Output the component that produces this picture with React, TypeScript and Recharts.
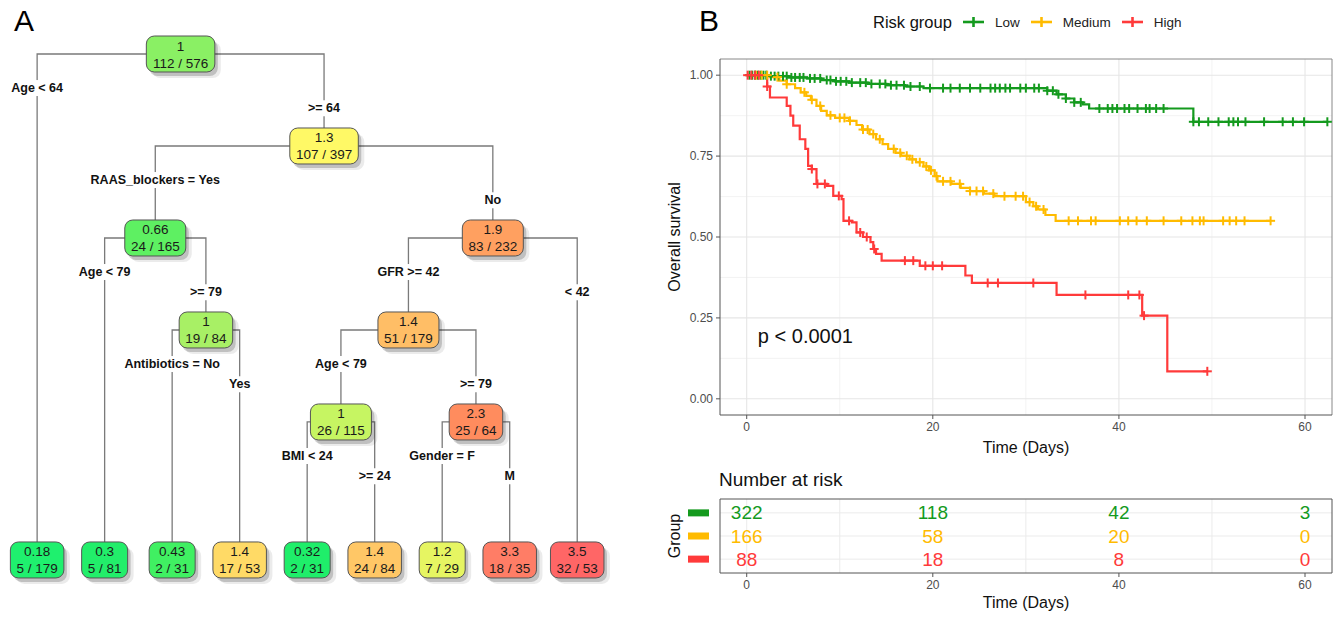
import React from 'react'
import { ComposedChart, ScatterChart, Scatter, Line, XAxis, YAxis, CartesianGrid, ReferenceLine, ReferenceDot } from 'recharts'

const FONT = '"Liberation Sans", Arial, sans-serif'

// ---------- panel A : regression tree ----------
const treeNodes = [
  { id: 'n1', value: '1', count: '112 / 576', fill: '#8AF064' },
  { id: 'n2', value: '1.3', count: '107 / 397', fill: '#FFF966' },
  { id: 'n3', value: '0.66', count: '24 / 165', fill: '#5EF062' },
  { id: 'n4', value: '1', count: '19 / 84', fill: '#A8F065' },
  { id: 'n5', value: '1.9', count: '83 / 232', fill: '#FFA060' },
  { id: 'n6', value: '1.4', count: '51 / 179', fill: '#FFBE66' },
  { id: 'n7', value: '1', count: '26 / 115', fill: '#C6F562' },
  { id: 'n8', value: '2.3', count: '25 / 64', fill: '#FF8C5E' },
  { id: 'L1', value: '0.18', count: '5 / 179', fill: '#1FF06E' },
  { id: 'L2', value: '0.3', count: '5 / 81', fill: '#22EE6A' },
  { id: 'L3', value: '0.43', count: '2 / 31', fill: '#40F062' },
  { id: 'L4', value: '1.4', count: '17 / 53', fill: '#FFDA66' },
  { id: 'L5', value: '0.32', count: '2 / 31', fill: '#1FEE6A' },
  { id: 'L6', value: '1.4', count: '24 / 84', fill: '#FFC766' },
  { id: 'L7', value: '1.2', count: '7 / 29', fill: '#E6F562' },
  { id: 'L8', value: '3.3', count: '18 / 35', fill: '#FF7D66' },
  { id: 'L9', value: '3.5', count: '32 / 53', fill: '#FF6666' },
]

const treeSplits = [
  { parent: 'n1', left: 'L1', right: 'n2', leftLabel: 'Age < 64', rightLabel: '>= 64' },
  { parent: 'n2', left: 'n3', right: 'n5', leftLabel: 'RAAS_blockers = Yes', rightLabel: 'No' },
  { parent: 'n3', left: 'L2', right: 'n4', leftLabel: 'Age < 79', rightLabel: '>= 79' },
  { parent: 'n4', left: 'L3', right: 'L4', leftLabel: 'Antibiotics = No', rightLabel: 'Yes' },
  { parent: 'n5', left: 'n6', right: 'L9', leftLabel: 'GFR >= 42', rightLabel: '< 42' },
  { parent: 'n6', left: 'n7', right: 'n8', leftLabel: 'Age < 79', rightLabel: '>= 79' },
  { parent: 'n7', left: 'L5', right: 'L6', leftLabel: 'BMI < 24', rightLabel: '>= 24' },
  { parent: 'n8', left: 'L7', right: 'L8', leftLabel: 'Gender = F', rightLabel: 'M' },
]

const leafOrder = ['L1', 'L2', 'L3', 'L4', 'L5', 'L6', 'L7', 'L8', 'L9']

// ---------- panel B : Kaplan-Meier ----------
const groupNames = ['Low', 'Medium', 'High']
const groupColors = ['#149A1E', '#FFBB00', '#FF3A3A']

const lowSteps = [
  [0, 1], [2.5, 0.997], [4.5, 0.993], [6.5, 0.99], [8, 0.985], [9.5, 0.981], [11, 0.977], [13, 0.973],
  [15, 0.969], [17, 0.965], [19, 0.96], [32.3, 0.952], [33.3, 0.941], [34.3, 0.928], [35.2, 0.916],
  [36.1, 0.91], [36.8, 0.897], [48.0, 0.856], [62.4, 0.856],
]
const mediumSteps = [
  [0, 1], [2.5, 0.994], [3.5, 0.983], [4.3, 0.972], [5.2, 0.96], [5.8, 0.947], [6.4, 0.936], [6.9, 0.924],
  [7.5, 0.905], [8.0, 0.89], [8.6, 0.876], [9.5, 0.868], [11.0, 0.859], [11.8, 0.846], [12.4, 0.832],
  [13.2, 0.818], [13.9, 0.802], [14.6, 0.787], [15.2, 0.772], [16.0, 0.76], [16.6, 0.751], [17.5, 0.74],
  [18.2, 0.731], [19.0, 0.718], [19.6, 0.706], [20.2, 0.688], [20.5, 0.672], [22.0, 0.664], [23.0, 0.652],
  [24.0, 0.642], [25.5, 0.634], [26.6, 0.626], [30.0, 0.608], [30.8, 0.595], [31.3, 0.585], [32.1, 0.568],
  [33.2, 0.55], [56.3, 0.55],
]
const highSteps = [
  [0, 1], [2.2, 0.965], [2.5, 0.931], [4.3, 0.905], [4.7, 0.875], [5.0, 0.844], [5.7, 0.802], [6.3, 0.772],
  [6.6, 0.72], [7.0, 0.71], [7.5, 0.664], [8.6, 0.658], [9.3, 0.627], [10.2, 0.617], [10.4, 0.55],
  [11.3, 0.545], [11.8, 0.514], [12.5, 0.5], [13.3, 0.484], [13.6, 0.463], [13.9, 0.448], [14.5, 0.427],
  [18.6, 0.411], [23.5, 0.381], [24.2, 0.358], [33.3, 0.321], [42.5, 0.257], [45.2, 0.085], [49.5, 0.085],
]

const lowCensored = [
  0.3, 0.6, 0.9, 1.2, 1.5, 1.8, 2.1, 2.6, 3.0, 3.4, 3.9, 4.3, 4.8, 5.2, 5.7, 6.1, 6.8, 7.3, 7.9, 8.6, 9.0,
  9.6, 10.1, 10.7, 11.3, 12.2, 12.8, 13.4, 14.3, 14.9, 15.5, 16.1, 16.9, 17.6, 18.6, 19.7, 21.1, 21.9, 22.9,
  24.0, 25.1, 26.2, 26.7, 27.2, 27.8, 28.3, 29.4, 30.0, 30.9, 31.4, 32.3, 32.9, 33.5, 34.3, 35.2, 35.9, 37.9,
  38.8, 39.3, 39.8, 40.6, 41.1, 42.0, 42.9, 43.3, 44.0, 44.8, 48.0, 48.6, 49.6, 50.7, 51.8, 52.3, 52.8, 53.6,
  55.6, 57.6, 58.7, 59.9, 62.4,
]
const mediumCensored = [
  1.0, 1.6, 2.2, 3.3, 4.3, 6.2, 7.0, 7.9, 9.0, 10.0, 10.5, 11.1, 12.5, 13.0, 13.6, 14.3, 15.8, 16.5, 17.2,
  17.8, 18.6, 19.3, 19.8, 20.4, 21.1, 21.9, 22.9, 24.0, 24.7, 25.4, 26.5, 27.7, 28.9, 29.7, 30.4, 31.1, 31.9,
  34.6, 35.6, 37.0, 37.5, 40.1, 41.0, 41.9, 43.0, 44.8, 46.7, 47.9, 48.7, 49.1, 51.2, 51.9, 52.6, 53.5, 56.3,
]
const highCensored = [
  0.1, 0.5, 0.9, 1.3, 2.2, 7.0, 7.6, 8.4, 9.9, 11.0, 12.2, 12.9, 13.7, 17.0, 17.9, 19.2, 20.0, 21.0, 25.9,
  27.0, 30.8, 36.4, 41.0, 42.2, 42.7, 49.5,
]

const timeTicks = [0, 20, 40, 60]
const timeMinor = [10, 30, 50]
const survTicks = [0, 0.25, 0.5, 0.75, 1]
const survMinor = [0.125, 0.375, 0.625, 0.875]

const riskTimes = [0, 20, 40, 60]
const lowAtRisk = [322, 118, 42, 3]
const mediumAtRisk = [166, 58, 20, 0]
const highAtRisk = [88, 18, 8, 0]

// ---------- derived ----------
const LEAF_LEVEL = 5.5
const layout: Record<string, { x: number; y: number }> = {}
function place(id: string, depth: number) {
  const s = treeSplits.find((d) => d.parent === id)
  if (!s) {
    layout[id] = { x: leafOrder.indexOf(id), y: LEAF_LEVEL }
    return
  }
  place(s.left, depth + 1)
  place(s.right, depth + 1)
  layout[id] = { x: (layout[s.left].x + layout[s.right].x) / 2, y: depth }
}
place('n1', 0)

const nodePoints = treeNodes.map((n) => ({ ...n, ...layout[n.id] }))
const edgePaths = treeSplits.map((s) => {
  const p = layout[s.parent], l = layout[s.left], r = layout[s.right]
  return [
    { x: l.x, y: l.y }, { x: l.x, y: p.y }, { x: r.x, y: p.y }, { x: r.x, y: r.y },
  ]
})
const splitLabels = treeSplits.flatMap((s) => {
  const p = layout[s.parent]
  return [
    { x: layout[s.left].x, y: p.y + 0.37, text: s.leftLabel },
    { x: layout[s.right].x, y: p.y + 0.59, text: s.rightLabel },
  ]
})

const stepSeries = [lowSteps, mediumSteps, highSteps].map((st) => st.map(([t, s]) => ({ t, s })))
const survAt = (steps: number[][], t: number) => {
  let v = 1
  for (const [st, s] of steps) if (st <= t) v = s
  return v
}
const censorSeries = [
  lowCensored.map((t) => ({ t, s: survAt(lowSteps, t) })),
  mediumCensored.map((t) => ({ t, s: survAt(mediumSteps, t) })),
  highCensored.map((t) => ({ t, s: survAt(highSteps, t) })),
]
const riskRows = [lowAtRisk, mediumAtRisk, highAtRisk].map((arr, gi) =>
  arr.map((n, i) => ({ t: riskTimes[i], row: 3 - gi, n }))
)

// ---------- shapes ----------
const TreeNode = (props: any) => {
  const { cx, cy, payload } = props
  const w = Math.max(payload.value.length, payload.count.length) * 7.5 + 1
  const h = 36
  return (
    <g>
      <rect x={cx - w / 2 + 6} y={cy - h / 2 + 6} width={w} height={h} rx={8} fill="#000" opacity={0.08} />
      <rect x={cx - w / 2 + 3} y={cy - h / 2 + 4} width={w} height={h} rx={8} fill="#000" opacity={0.18} />
      <rect x={cx - w / 2} y={cy - h / 2} width={w} height={h} rx={8} fill={payload.fill} stroke="#555" strokeWidth={1} />
      <text x={cx} y={cy - 8} textAnchor="middle" dominantBaseline="central" fontSize={13.5} fontFamily={FONT} fill="#1a1a1a">
        {payload.value}
      </text>
      <text x={cx} y={cy + 9} textAnchor="middle" dominantBaseline="central" fontSize={13.5} fontFamily={FONT} fill="#1a1a1a">
        {payload.count}
      </text>
    </g>
  )
}

const SplitLabel = (props: any) => {
  const { cx, cy, payload } = props
  const w = payload.text.length * 7 + 4
  return (
    <g>
      <rect x={cx - w / 2} y={cy - 8} width={w} height={16} fill="#fff" />
      <text x={cx} y={cy} textAnchor="middle" dominantBaseline="central" fontSize={12.5} fontWeight="bold" fontFamily={FONT} fill="#111">
        {payload.text}
      </text>
    </g>
  )
}

const plusDot = (color: string) => (props: any) => {
  const { cx, cy, index } = props
  if (cx == null || cy == null) return <g key={index} />
  return (
    <g key={index}>
      <line x1={cx - 4.5} x2={cx + 4.5} y1={cy} y2={cy} stroke={color} strokeWidth={2} />
      <line x1={cx} x2={cx} y1={cy - 4.5} y2={cy + 4.5} stroke={color} strokeWidth={2} />
    </g>
  )
}

const countDot = (color: string) => (props: any) => {
  const { cx, cy, index, payload } = props
  return (
    <text key={index} x={cx} y={cy} textAnchor="middle" dominantBaseline="central" fontSize={19} fontFamily={FONT} fill={color}>
      {payload.n}
    </text>
  )
}

const GroupTick = (props: any) => {
  const { x, y, payload } = props
  const color = groupColors[3 - payload.value]
  return <rect x={x - 32} y={y - 3.5} width={21} height={7} fill={color} />
}

const tickStyle = { fill: '#4D4D4D', fontSize: 12, fontFamily: FONT }

const xTitle = (dy: number) => (props: any) => {
  const vb = props.viewBox
  return (
    <text x={vb.x + vb.width / 2} y={vb.y + dy} textAnchor="middle" dominantBaseline="central" fontSize={16} fontFamily={FONT} fill="#111">
      Time (Days)
    </text>
  )
}
const yTitle = (text: string) => (props: any) => {
  const vb = props.viewBox
  const x = vb.x + 14
  const y = vb.y + vb.height / 2
  return (
    <text x={x} y={y} transform={`rotate(-90, ${x}, ${y})`} textAnchor="middle" dominantBaseline="central" fontSize={16} fontFamily={FONT} fill="#111">
      {text}
    </text>
  )
}

const LegendKey = ({ color }: { color: string }) => (
  <svg width={21} height={12} style={{ margin: '0 11px 0 11px' }}>
    <line x1={0} x2={21} y1={6} y2={6} stroke={color} strokeWidth={2.6} />
    <line x1={10.5} x2={10.5} y1={1} y2={11} stroke={color} strokeWidth={2.6} />
  </svg>
)

export default function App() {
  return (
    <div style={{ position: 'absolute', left: 0, top: 0, width: 1343, height: 617, background: '#fff', fontFamily: FONT }}>
      <div style={{ position: 'absolute', left: 14, top: 4, fontSize: 30 }}>A</div>
      <div style={{ position: 'absolute', left: 699, top: 4, fontSize: 30 }}>B</div>

      <div style={{ position: 'absolute', left: 0, top: 0 }}>
        <ScatterChart width={640} height={617} margin={{ top: 0, right: 0, bottom: 0, left: 0 }}>
          <XAxis type="number" dataKey="x" domain={[-0.55, 8.93]} hide allowDataOverflow />
          <YAxis type="number" dataKey="y" domain={[-0.587, 6.12]} reversed hide allowDataOverflow />
          {edgePaths.map((pts, i) => (
            <Scatter key={'e' + i} data={pts} line={{ stroke: '#7A7A7A', strokeWidth: 1.3 }} shape={() => <g />} isAnimationActive={false} />
          ))}
          <Scatter data={splitLabels} shape={SplitLabel} isAnimationActive={false} />
          <Scatter data={nodePoints} shape={TreeNode} isAnimationActive={false} />
        </ScatterChart>
      </div>

      <div style={{ position: 'absolute', left: 873, top: 12, display: 'flex', alignItems: 'center', height: 20 }}>
        <span style={{ fontSize: 16.5, color: '#111' }}>Risk group</span>
        {groupNames.map((g, i) => (
          <React.Fragment key={g}>
            <LegendKey color={groupColors[i]} />
            <span style={{ fontSize: 13.5, color: '#222' }}>{g}</span>
          </React.Fragment>
        ))}
      </div>

      <div style={{ position: 'absolute', left: 660, top: 0 }}>
        <ComposedChart width={683} height={460} margin={{ top: 59, right: 11, bottom: 0, left: 0 }}>
          <CartesianGrid horizontalValues={survMinor} verticalValues={timeMinor} stroke="#F0F0F0" strokeWidth={0.8} />
          <CartesianGrid horizontalValues={survTicks} verticalValues={timeTicks} stroke="#E6E6E6" strokeWidth={1.1} />
          <XAxis
            type="number" dataKey="t" domain={[-2.87, 62.9]} ticks={timeTicks} allowDataOverflow height={45}
            tickSize={4} tickMargin={3} tick={tickStyle} axisLine={{ stroke: '#555' }} tickLine={{ stroke: '#555' }}
            label={xTitle(32)}
          />
          <YAxis
            type="number" dataKey="s" domain={[-0.05, 1.05]} ticks={survTicks} allowDataOverflow width={60}
            tickFormatter={(v: number) => v.toFixed(2)} tickSize={4} tickMargin={3} tick={tickStyle}
            axisLine={{ stroke: '#555' }} tickLine={{ stroke: '#555' }} label={yTitle('Overall survival')}
          />
          <ReferenceLine y={1.05} stroke="#888" ifOverflow="visible" />
          <ReferenceLine x={62.9} stroke="#888" ifOverflow="visible" />
          {stepSeries.map((d, i) => (
            <Line key={'s' + i} data={d} dataKey="s" type="stepAfter" stroke={groupColors[i]} strokeWidth={2.2}
              dot={false} activeDot={false} isAnimationActive={false} />
          ))}
          {censorSeries.map((d, i) => (
            <Line key={'c' + i} data={d} dataKey="s" stroke="none" dot={plusDot(groupColors[i])}
              activeDot={false} isAnimationActive={false} />
          ))}
          <ReferenceDot x={1.2} y={0.194} r={0} ifOverflow="visible"
            label={{ value: 'p < 0.0001', position: 'right', offset: 0, fontSize: 20, fill: '#111', fontFamily: FONT }} />
        </ComposedChart>
      </div>

      <div style={{ position: 'absolute', left: 719, top: 469, fontSize: 19, color: '#111' }}>Number at risk</div>

      <div style={{ position: 'absolute', left: 660, top: 460 }}>
        <ComposedChart width={683} height={157} margin={{ top: 39, right: 11, bottom: 0, left: 0 }}>
          <CartesianGrid horizontalValues={[1, 2, 3]} verticalValues={[...timeTicks, ...timeMinor]} stroke="#EBEBEB" strokeWidth={1} />
          <XAxis
            type="number" dataKey="t" domain={[-2.87, 62.9]} ticks={timeTicks} allowDataOverflow height={44}
            tickSize={4} tickMargin={3} tick={tickStyle} axisLine={{ stroke: '#555' }} tickLine={{ stroke: '#555' }}
            label={xTitle(29)}
          />
          <YAxis
            type="number" dataKey="row" domain={[0.4, 3.6]} ticks={[1, 2, 3]} allowDataOverflow width={60}
            tickSize={0} tickMargin={0} tick={GroupTick} axisLine={{ stroke: '#555' }} label={yTitle('Group')}
          />
          <ReferenceLine y={3.6} stroke="#555" ifOverflow="visible" />
          <ReferenceLine x={62.9} stroke="#555" ifOverflow="visible" />
          {riskRows.map((d, i) => (
            <Line key={'r' + i} data={d} dataKey="row" stroke="none" dot={countDot(groupColors[i])}
              activeDot={false} isAnimationActive={false} />
          ))}
        </ComposedChart>
      </div>
    </div>
  )
}
